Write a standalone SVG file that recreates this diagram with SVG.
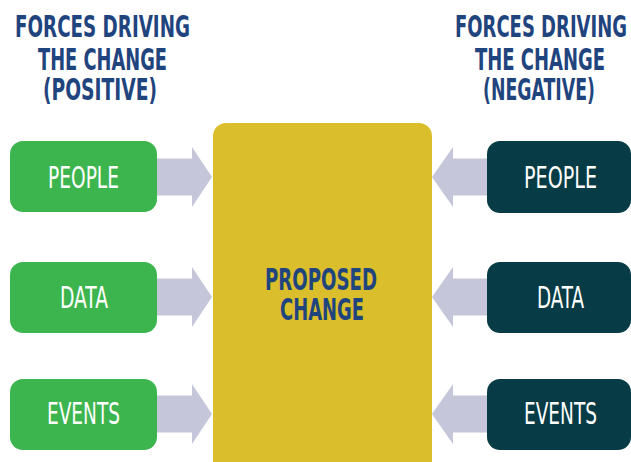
<svg xmlns="http://www.w3.org/2000/svg" width="631" height="462" viewBox="0 0 631 462">
  <style>
    .title { font-family: "Liberation Sans Narrow", "DejaVu Sans Condensed", "Liberation Sans", sans-serif; font-weight: bold; font-size: 30px; fill: #1F447E; text-anchor: middle; }
    .label { font-family: "Liberation Sans Narrow", "DejaVu Sans Condensed", "Liberation Sans", sans-serif; font-size: 30px; fill: #FFFFFF; text-anchor: middle; }
    .center-label { font-family: "Liberation Sans Narrow", "DejaVu Sans Condensed", "Liberation Sans", sans-serif; font-weight: bold; font-size: 30px; fill: #1F447E; text-anchor: middle; }
    .pos { fill: #3DB54E; }
    .neg { fill: #073B45; }
    .arrow { fill: #C5C6D9; }
    .core { fill: #DBBE2B; }
  </style>

  <!-- column headings -->
  <g id="heading-positive">
    <text class="title" x="102.5" y="37" textLength="175" lengthAdjust="spacingAndGlyphs">FORCES DRIVING</text>
    <text class="title" x="102.5" y="70" textLength="129" lengthAdjust="spacingAndGlyphs">THE CHANGE</text>
    <text class="title" x="100" y="100" textLength="114" lengthAdjust="spacingAndGlyphs">(POSITIVE)</text>
  </g>
  <g id="heading-negative">
    <text class="title" x="541" y="37" textLength="172" lengthAdjust="spacingAndGlyphs">FORCES DRIVING</text>
    <text class="title" x="540" y="70" textLength="130" lengthAdjust="spacingAndGlyphs">THE CHANGE</text>
    <text class="title" x="539" y="100" textLength="112" lengthAdjust="spacingAndGlyphs">(NEGATIVE)</text>
  </g>

  <!-- block arrows pointing into the central box -->
  <g id="connectors">
    <polygon class="arrow" points="157,158.5 192,158.5 192,147 212,177 192,207 192,195.5 157,195.5"/>
    <polygon class="arrow" points="157,278.5 192,278.5 192,267 212,297 192,327 192,315.5 157,315.5"/>
    <polygon class="arrow" points="157,395.5 192,395.5 192,384 212,414 192,444 192,432.5 157,432.5"/>
    <polygon class="arrow" points="487,158.5 453,158.5 453,147 432,177 453,207 453,195.5 487,195.5"/>
    <polygon class="arrow" points="487,278.5 453,278.5 453,267 432,297 453,327 453,315.5 487,315.5"/>
    <polygon class="arrow" points="487,395.5 453,395.5 453,384 432,414 453,444 453,432.5 487,432.5"/>
  </g>

  <!-- central box -->
  <g id="proposed-change">
    <rect class="core" x="213" y="123" width="219" height="360" rx="13"/>
    <text class="center-label" x="321" y="290" textLength="112" lengthAdjust="spacingAndGlyphs">PROPOSED</text>
    <text class="center-label" x="322" y="320" textLength="84" lengthAdjust="spacingAndGlyphs">CHANGE</text>
  </g>

  <!-- positive forces -->
  <g id="pos-people">
    <rect class="pos" x="10" y="141" width="147" height="71" rx="13"/>
    <text class="label" x="83.5" y="188" textLength="71" lengthAdjust="spacingAndGlyphs">PEOPLE</text>
  </g>
  <g id="pos-data">
    <rect class="pos" x="10" y="262" width="147" height="71" rx="13"/>
    <text class="label" x="84" y="308" textLength="48" lengthAdjust="spacingAndGlyphs">DATA</text>
  </g>
  <g id="pos-events">
    <rect class="pos" x="10" y="379" width="147" height="71" rx="13"/>
    <text class="label" x="83.5" y="424" textLength="73" lengthAdjust="spacingAndGlyphs">EVENTS</text>
  </g>

  <!-- negative forces -->
  <g id="neg-people">
    <rect class="neg" x="487" y="141" width="144" height="72" rx="13"/>
    <text class="label" x="560.5" y="188" textLength="73" lengthAdjust="spacingAndGlyphs">PEOPLE</text>
  </g>
  <g id="neg-data">
    <rect class="neg" x="487" y="262" width="144" height="71" rx="13"/>
    <text class="label" x="560.5" y="308" textLength="47" lengthAdjust="spacingAndGlyphs">DATA</text>
  </g>
  <g id="neg-events">
    <rect class="neg" x="487" y="379" width="144" height="71" rx="13"/>
    <text class="label" x="560.5" y="424" textLength="73" lengthAdjust="spacingAndGlyphs">EVENTS</text>
  </g>
</svg>
